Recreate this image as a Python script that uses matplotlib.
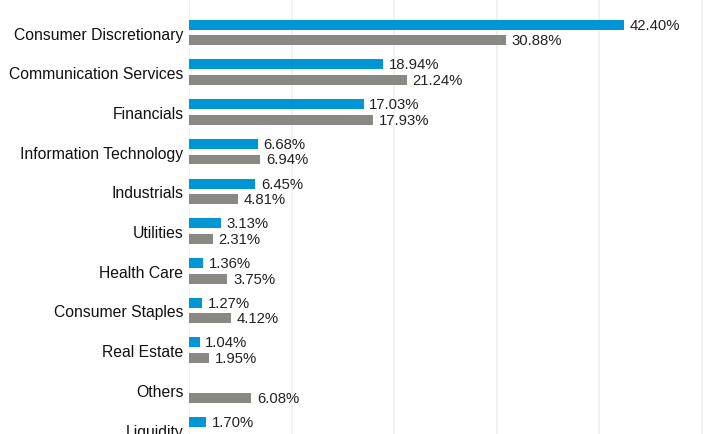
import numpy as np
import matplotlib
matplotlib.use("Agg")
import matplotlib.pyplot as plt

plt.rcParams['font.family'] = ['Liberation Sans', 'DejaVu Sans']

# sector weights (%)
sectors = ["Consumer Discretionary", "Communication Services", "Financials",
           "Information Technology", "Industrials", "Utilities", "Health Care",
           "Consumer Staples", "Real Estate", "Others", "Liquidity"]
fund = [42.40, 18.94, 17.03, 6.68, 6.45, 3.13, 1.36, 1.27, 1.04, None, 1.70]
index = [30.88, 21.24, 17.93, 6.94, 4.81, 2.31, 3.75, 4.12, 1.95, 6.08, None]

blue = "#0096d6"
grey = "#8a8883"

fig = plt.figure(figsize=(7.18, 4.35), dpi=100)
ax = fig.add_axes([189 / 718, 0, 1 - 189 / 718, 1])

y = np.arange(len(sectors))
off = 0.197
h = 0.25

for i in range(len(sectors)):
    if fund[i] is not None:
        ax.barh(y[i] - off, fund[i], height=h, color=blue, zorder=3)
        ax.text(fund[i] + 0.55, y[i] - off, f"{fund[i]:.2f}%", va="center",
                ha="left", fontsize=10.7, color="#222222")
    if index[i] is not None:
        ax.barh(y[i] + off, index[i], height=h, color=grey, zorder=3)
        ax.text(index[i] + 0.55, y[i] + off, f"{index[i]:.2f}%", va="center",
                ha="left", fontsize=10.7, color="#222222")

ax.set_xlim(0, 51.56)
ax.set_ylim(10.11, -0.844)
ax.set_xticks([0, 10, 20, 30, 40, 50])
ax.xaxis.grid(True, color="#efefef", linewidth=1.2, zorder=0)
ax.set_axisbelow(True)
ax.tick_params(axis="x", bottom=False, labelbottom=False)
ax.set_yticks(y)
ax.set_yticklabels(sectors, fontsize=11.3, color="#111111")
ax.tick_params(axis="y", length=0, pad=4)
for s in ax.spines.values():
    s.set_visible(False)

fig.savefig("out.png", dpi=100)
